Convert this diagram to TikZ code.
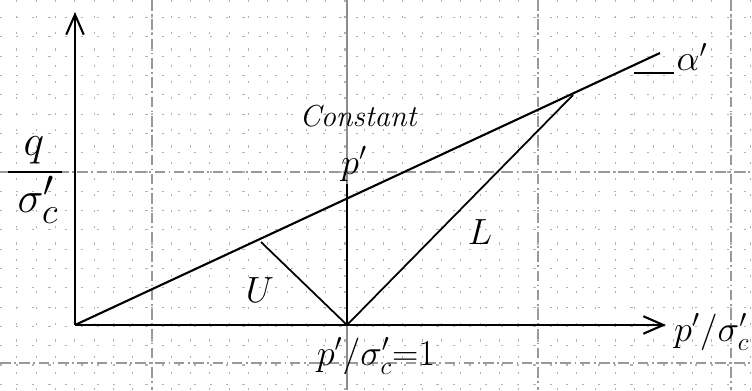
\documentclass[tikz,border=0pt]{standalone}
\usepackage{amsmath,amssymb}
\usepackage{tikz}
\usetikzlibrary{arrows.meta, calc}

\begin{document}
\begin{tikzpicture}[
    x=0.02cm, y=-0.02cm,
    minorgrid/.style={gray!60, line width=0.6pt, dash pattern=on 1.2pt off 8pt},
    majorgrid/.style={gray!80, line width=0.8pt, dash pattern=on 6pt off 2pt on 1pt off 2pt},
    axis_line/.style={line width=1.6pt, -{Straight Barb[length=4mm, width=3.5mm, line width=1.2pt]}},
    state_line/.style={line width=1.2pt},
    path_line/.style={line width=1pt},
    label_style/.style={font=\LARGE, text=black, inner sep=1pt}
]
    \useasboundingbox (0,0) rectangle (752,390);

    % ================= GRAPH PAPER =================
    \foreach \i in {-7,...,31} {
        \draw[minorgrid] ({152+\i*19.3},0) -- ({152+\i*19.3},390);
    }
    \foreach \j in {-8,...,11} {
        \draw[minorgrid] (0,{172+\j*19.3}) -- (752,{172+\j*19.3});
    }
    \foreach \gx in {152,538,731} {
        \draw[majorgrid] (\gx,0) -- (\gx,390);
    }
    \draw[gray!90, line width=0.9pt] (347,0) -- (347,390);
    \foreach \gy in {172,363} {
        \draw[majorgrid] (0,\gy) -- (752,\gy);
    }

    % ================= POINTS =================
    \coordinate (O) at (75,325);
    \coordinate (Ytip) at (75,12);
    \coordinate (Xtip) at (666,325);
    \coordinate (P1) at (347,325);
    \coordinate (CSLend) at (660,53);
    \coordinate (Lend) at (573,95);
    \coordinate (Uend) at (261,242);
    \coordinate (Ptop) at (347,184);
    \coordinate (Bar1) at (8,172);
    \coordinate (Bar2) at (62,172);
    \coordinate (Tick1) at (634,73);
    \coordinate (Tick2) at (674,73);

    % ================= AXES =================
    \draw[axis_line] (O) -- (Ytip);
    \draw[axis_line] (O) -- (Xtip);

    % ================= LINES =================
    \draw[state_line] (O) -- (CSLend);
    \draw[path_line] (P1) -- (Lend);
    \draw[path_line] (P1) -- (Uend);
    \draw[line width=1.2pt] (P1) -- (Ptop);
    \draw[line width=1.2pt] (Tick1) -- (Tick2);

    % ================= LABELS =================
    \draw[line width=1.2pt] (Bar1) -- (Bar2);
    \node[label_style, font=\Huge] (qlab) at (34,150) {$q$};
    \node[label_style, font=\Huge] (siglab) at (38,200) {$\sigma'_c$};
    \node[label_style] (const) at (358,116) {\itshape Constant};
    \node[label_style, font=\huge] (plab) at (354,164) {$p'$};
    \node[label_style, font=\huge] (ulab) at (260,290) {$U$};
    \node[label_style, font=\huge] (llab) at (480,232) {$L$};
    \node[label_style, font=\huge] (alab) at (692,57) {$\alpha'$};
    \node[label_style, font=\huge, anchor=west] (xlab) at (672,332) {$p'/\sigma'_c$};
    \node[label_style, font=\huge] (p1lab) at (376,356) {$p'/\sigma'_c{=}1$};

\end{tikzpicture}
\end{document}
